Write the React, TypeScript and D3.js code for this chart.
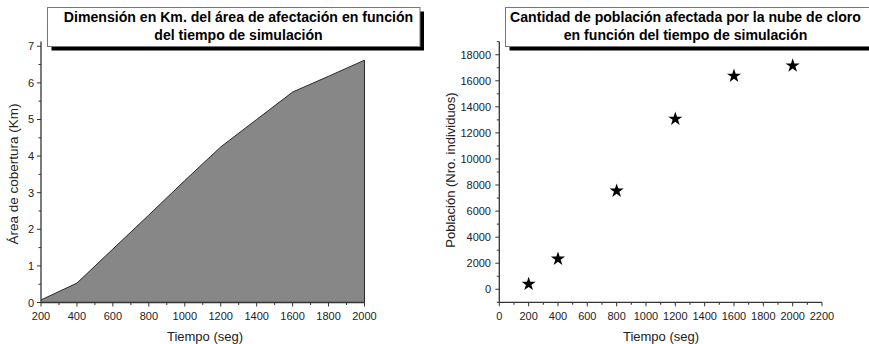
import React from "react";
import * as d3 from "d3";

const areaTimes = [200, 400, 600, 800, 1000, 1200, 1400, 1600, 1800, 2000];
const areaKm = [0.07, 0.53, 1.46, 2.39, 3.33, 4.25, 5.0, 5.75, 6.18, 6.62];

const popTimes = [200, 400, 800, 1200, 1600, 2000];
const popValues = [400, 2330, 7550, 13070, 16370, 17160];

const leftXTicks = [200, 400, 600, 800, 1000, 1200, 1400, 1600, 1800, 2000];
const leftYTicks = [0, 1, 2, 3, 4, 5, 6, 7];
const rightXTicks = [0, 200, 400, 600, 800, 1000, 1200, 1400, 1600, 1800, 2000, 2200];
const rightYTicks = [0, 2000, 4000, 6000, 8000, 10000, 12000, 14000, 16000, 18000];

const leftTitle = ["Dimensión en Km. del área de afectación en función", "del tiempo de simulación"];
const rightTitle = ["Cantidad de población afectada por la nube de cloro", "en función del tiempo de simulación"];

const FONT = "'Liberation Sans', Arial, sans-serif";
const AX = "#333";

function TitleBox({ x, y, w, h, cx, lines }: { x: number; y: number; w: number; h: number; cx: number; lines: string[] }) {
  return (
    <g>
      <rect x={x + 4} y={y + 4} width={w} height={h} fill="#000" />
      <rect x={x} y={y} width={w} height={h} fill="#fff" stroke="#777" strokeWidth={1} />
      {lines.map((l, i) => (
        <text key={i} x={cx} y={y + 14.5 + i * 18} textAnchor="middle" fontFamily={FONT} fontWeight="bold" fontSize={14.1} fill="#000">
          {l}
        </text>
      ))}
    </g>
  );
}

export default function App() {
  // Left chart scales
  const xL = d3.scaleLinear().domain([200, 2000]).range([41, 364.5]);
  const yL = d3.scaleLinear().domain([0, 7.13]).range([302.5, 41.5]);
  // Right chart scales
  const xR = d3.scaleLinear().domain([0, 2200]).range([499.3, 822]);
  const yR = d3.scaleLinear().domain([-1000, 19000]).range([302.3, 41.7]);

  const pts = areaTimes.map((t, i) => [t, areaKm[i]] as [number, number]);
  const areaGen = d3.area<[number, number]>().x((d) => xL(d[0])).y0(yL(0)).y1((d) => yL(d[1]));
  const lineGen = d3.line<[number, number]>().x((d) => xL(d[0])).y((d) => yL(d[1]));

  const leftXMinor = d3.range(300, 2000, 200);
  const leftYMinor = d3.range(0.5, 7, 1);
  const rightXMinor = d3.range(100, 2200, 200);
  const rightYMinor = d3.range(-1000, 19001, 2000);

  const star = d3.symbol().type(d3.symbolStar).size(62)() as string;

  return (
    <svg width={869} height={344} style={{ position: "absolute", left: 0, top: 0, background: "#fff" }}>
      {/* LEFT CHART */}
      <path d={areaGen(pts) as string} fill="#878787" />
      <path d={lineGen(pts) as string} fill="none" stroke="#2a2a2a" strokeWidth={1} />
      <line x1={xL(2000)} x2={xL(2000)} y1={yL(0)} y2={yL(areaKm[areaKm.length - 1])} stroke="#2a2a2a" strokeWidth={1} />
      {/* axes */}
      <line x1={xL(200)} x2={xL(2000)} y1={yL(0)} y2={yL(0)} stroke={AX} strokeWidth={1.3} />
      <line x1={xL(200)} x2={xL(200)} y1={yL(0)} y2={yL(7.13)} stroke={AX} strokeWidth={1.3} />
      {leftXTicks.map((t) => (
        <g key={"lx" + t}>
          <line x1={xL(t)} x2={xL(t)} y1={yL(0)} y2={yL(0) + 4} stroke={AX} strokeWidth={1} />
          <text x={xL(t)} y={320} textAnchor="middle" fontFamily={FONT} fontSize={11} fill="#222">{t}</text>
        </g>
      ))}
      {leftXMinor.map((t) => (
        <line key={"lxm" + t} x1={xL(t)} x2={xL(t)} y1={yL(0)} y2={yL(0) + 2.5} stroke={AX} strokeWidth={1} />
      ))}
      {leftYTicks.map((t) => (
        <g key={"ly" + t}>
          <line x1={xL(200) - 4} x2={xL(200)} y1={yL(t)} y2={yL(t)} stroke={AX} strokeWidth={1} />
          <text x={34} y={yL(t) + 4} textAnchor="end" fontFamily={FONT} fontSize={11} fill="#222">{t}</text>
        </g>
      ))}
      {leftYMinor.map((t) => (
        <line key={"lym" + t} x1={xL(200) - 2.5} x2={xL(200)} y1={yL(t)} y2={yL(t)} stroke={AX} strokeWidth={1} />
      ))}
      <text x={205} y={341} textAnchor="middle" fontFamily={FONT} fontSize={13} fill="#222">Tiempo (seg)</text>
      <text transform={`translate(18,174) rotate(-90)`} textAnchor="middle" fontFamily={FONT} fontSize={13.5} fill="#222">Área de cobertura (Km)</text>
      <TitleBox x={47.5} y={7.5} w={372.5} h={39} cx={238.5} lines={leftTitle} />

      {/* RIGHT CHART */}
      <line x1={xR(0)} x2={xR(2200)} y1={yR(-1000)} y2={yR(-1000)} stroke={AX} strokeWidth={1.3} />
      <line x1={xR(0)} x2={xR(0)} y1={yR(-1000)} y2={yR(19000)} stroke={AX} strokeWidth={1.3} />
      {rightXTicks.map((t) => (
        <g key={"rx" + t}>
          <line x1={xR(t)} x2={xR(t)} y1={yR(-1000)} y2={yR(-1000) + 4} stroke={AX} strokeWidth={1} />
          <text x={xR(t)} y={320} textAnchor="middle" fontFamily={FONT} fontSize={11} fill="#222">{t}</text>
        </g>
      ))}
      {rightXMinor.map((t) => (
        <line key={"rxm" + t} x1={xR(t)} x2={xR(t)} y1={yR(-1000)} y2={yR(-1000) + 2.5} stroke={AX} strokeWidth={1} />
      ))}
      {rightYTicks.map((t) => (
        <g key={"ry" + t}>
          <line x1={xR(0) - 4} x2={xR(0)} y1={yR(t)} y2={yR(t)} stroke={AX} strokeWidth={1} />
          <text x={491} y={yR(t) + 4} textAnchor="end" fontFamily={FONT} fontSize={11} fill="#222">{t}</text>
        </g>
      ))}
      {rightYMinor.map((t) => (
        <line key={"rym" + t} x1={xR(0) - 2.5} x2={xR(0)} y1={yR(t)} y2={yR(t)} stroke={AX} strokeWidth={1} />
      ))}
      {popTimes.map((t, i) => (
        <path key={"st" + t} d={star} transform={`translate(${xR(t)},${yR(popValues[i])})`} fill="#000" />
      ))}
      <text x={661} y={341} textAnchor="middle" fontFamily={FONT} fontSize={13} fill="#222">Tiempo (seg)</text>
      <text transform={`translate(455,170) rotate(-90)`} textAnchor="middle" fontFamily={FONT} fontSize={13} fill="#222">Población (Nro. individuos)</text>
      <TitleBox x={505.5} y={7.5} w={370} h={39} cx={685.5} lines={rightTitle} />
    </svg>
  );
}
